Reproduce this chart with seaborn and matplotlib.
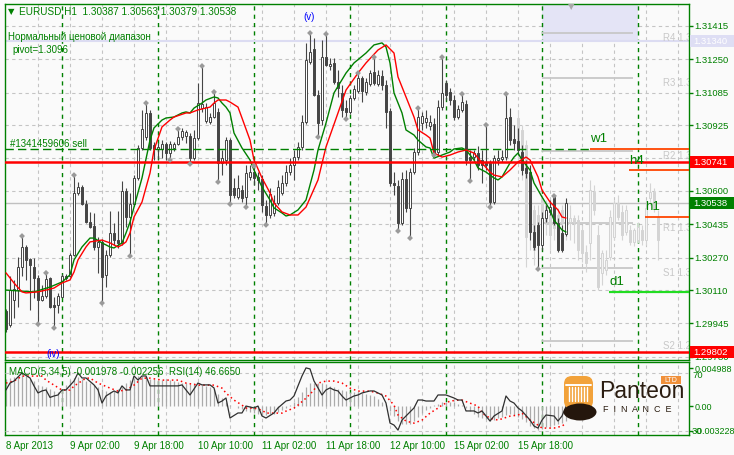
import numpy as np
import matplotlib
matplotlib.use("Agg")
import matplotlib.pyplot as plt
from matplotlib.patches import Rectangle, FancyBboxPatch, Ellipse
from matplotlib.transforms import Affine2D, blended_transform_factory
import seaborn as sns

sns.set_theme(style="white")
plt.rcParams['font.family'] = ['Liberation Sans', 'DejaVu Sans']

# ---------------- data (prices in 1e-5 units) ----------------
open_pts = [130007,129937,130061,130110,130224,130323,130264,130224,130170,130061,
            130081,130170,130036,130036,130076,130180,130180,130283,130590,130619,
            130535,130446,130427,130323,130348,130185,130283,130392,130357,130343,
            130600,130471,130535,130664,130812,130866,130985,130827,130807,130807,
            130832,130787,130812,130832,130866,130871,130871,130762,130861,131009,
            130945,130940,130965,130990,130738,130753,130851,130614,130570,130604,
            130570,130669,130693,130669,130659,130525,130481,130491,130540,130590,
            130639,130693,130728,130767,130817,130940,131237,131301,131074,130950,
            131261,131217,131232,131138,131084,131009,130990,131059,131094,131158,
            131089,131128,131187,131128,131168,131123,130995,130639,130624,130441,
            130659,130516,130693,130792,130935,130940,130921,130930,130792,131014,
            131133,131089,131049,130965,131000,131029,130767,130767,130787,130753,
            130738,130738,130545,130753,130758,130767,130965,130856,130846,130792,
            130713,130693,130397,130432,130333,130466,130496,130570,130441,130392,
            130387]
high_pts = [130017,130180,130160,130273,130377,130333,130268,130268,130185,130135,
            130195,130175,130076,130096,130190,130190,130293,130678,130644,130629,
            130555,130496,130491,130372,130362,130308,130501,130441,130501,130649,
            130614,130590,130678,130827,131000,131034,131000,130842,130837,130851,
            130842,130846,130842,130906,130911,130901,130886,130901,131133,131217,
            131034,130985,131089,131009,130802,130866,130861,130664,130678,130629,
            130728,130728,130723,130693,130678,130555,130614,130580,130654,130678,
            130728,130762,130802,130842,130975,131331,131380,131355,131098,131345,
            131375,131257,131257,131197,131123,131049,131074,131123,131182,131168,
            131158,131197,131261,131197,131197,131148,131009,130693,130654,130693,
            130703,130713,130812,131009,130990,131000,130975,130960,131049,131261,
            131148,131108,131074,131024,131079,131049,130802,130802,130822,130802,
            130926,130753,130777,130802,130802,131079,131009,130926,130911,130827,
            130753,130728,130432,130446,130496,130530,130555,130575,130466,130432,
            130563]
low_pts = [129903,129928,129972,130027,130180,130160,130012,130071,129942,130056,
           130071,130022,129923,129997,130076,130160,130175,130278,130580,130530,
           130441,130417,130308,130195,130046,130125,130273,130333,130318,130333,
           130422,130278,130525,130654,130802,130851,130802,130753,130758,130762,
           130753,130753,130797,130827,130851,130837,130733,130753,130851,130990,
           130935,130930,130960,130644,130678,130728,130535,130565,130560,130545,
           130520,130654,130629,130604,130496,130432,130466,130476,130530,130580,
           130624,130678,130654,130753,130802,130930,131227,131069,130866,130926,
           131217,131197,131128,131064,130965,130955,130980,131049,131084,131039,
           131074,131118,131123,131118,131098,130911,130624,130580,130402,130432,
           130496,130367,130683,130777,130901,130911,130901,130777,130777,131000,
           131049,131024,130950,130955,130990,130728,130649,130753,130703,130639,
           130703,130520,130535,130728,130743,130753,130827,130802,130777,130678,
           130664,130357,130308,130214,130308,130446,130481,130432,130298,130298,
           130379]
close_pts = [129918,130110,130115,130224,130323,130259,130234,130170,130061,130081,
             130165,130027,130027,130081,130180,130170,130283,130590,130619,130535,
             130446,130422,130323,130348,130175,130283,130392,130357,130343,130600,
             130471,130535,130664,130812,130906,130985,130812,130807,130817,130832,
             130787,130832,130832,130866,130896,130891,130762,130861,131034,131029,
             131014,130965,131034,130738,130762,130851,130580,130580,130614,130565,
             130688,130693,130664,130654,130530,130481,130585,130540,130619,130639,
             130693,130728,130767,130817,130940,131247,131286,131074,130935,131261,
             131222,131227,131138,131108,131000,130990,131059,131103,131158,131094,
             131138,131182,131133,131173,131123,130990,130639,130629,130441,130659,
             130516,130693,130792,130965,130970,130960,130940,130787,131014,131084,
             131074,131049,130965,131005,131039,130753,130753,130787,130728,130728,
             130728,130545,130762,130762,130767,130960,130851,130837,130802,130703,
             130688,130397,130323,130333,130466,130506,130520,130441,130308,130308,
             130538]

# projected (light grey) candles, starting at bar 128
ghost_start = 128
ghost_open = [130960,130901,130827,130555,130506,130481,130555,130530,130481,130506,130481,130506,130496,
              130446,130466,130456,130407,130298,130343,130595,130382,130195,130209,130273,130372,
              130540,130496,130397,130407,130348,130357,130407,130357,130565,130595,130471]
ghost_high = [131000,130926,130851,130604,130530,130530,130580,130555,130530,130530,130516,130530,130530,
              130530,130481,130481,130432,130333,130654,130629,130432,130308,130308,130506,130555,
              130580,130530,130530,130432,130417,130446,130432,130555,130639,130614,130506]
ghost_low = [130753,130654,130224,130308,130234,130268,130357,130382,130308,130357,130333,130357,130357,
             130357,130343,130259,130249,130199,130259,130481,130110,130135,130185,130259,130357,
             130456,130357,130382,130333,130328,130343,130333,130333,130530,130496,130259]
ghost_close = [130802,130703,130372,130407,130308,130357,130432,130446,130382,130417,130397,130446,130432,
               130466,130446,130308,130293,130244,130604,130506,130125,130293,130259,130471,130540,
               130471,130382,130506,130348,130407,130422,130357,130516,130595,130516,130357]

green_bar = [0,7,11,14,16,17,19,21,22,24,26,27,29,30,31,32,34,36,37,39,40,42,44,45,46,47,49,50,52,53,
             54,55,56,57,59,61,62,64,66,67,69,70,71,73,75,77,78,80,82,85,87,90,92,94,95,96,97,99,100,102,
             103,105,106,107,109,111,112,114,115,117,118,120,122,123,124,126,127,128,129,131,132,134,136,137,139,140]
green_val = [130110,130101,130125,130150,130185,130259,130323,130367,130367,130343,130323,130318,130343,130392,130446,
             130520,130664,130851,130911,130950,130960,130965,130985,130990,130985,131009,131034,131049,131064,131059,
             131034,131014,130985,130886,130812,130753,130703,130619,130555,130516,130491,130476,130481,130506,130555,
             130703,130802,130935,131084,131182,131232,131281,131321,131331,131311,131232,131084,130985,130901,130876,
             130851,130817,130812,130762,130777,130792,130807,130812,130802,130753,130713,130693,130664,130654,130669,
             130738,130767,130787,130753,130703,130639,130570,130506,130456,130407,130397]
red_bar = [0,2,4,5,8,10,12,14,16,17,18,20,21,24,26,28,29,30,31,32,34,36,37,39,41,42,45,46,48,51,
           52,53,55,56,58,59,61,62,64,66,67,69,71,73,75,78,80,83,85,88,90,93,95,97,98,100,102,103,105,106,
           107,109,111,113,115,117,119,121,122,124,126,128,130,131,133,134,136,138,139,140]
red_val = [130195,130145,130101,130096,130101,130110,130120,130145,130160,130199,130259,130323,130348,130357,130343,
           130323,130333,130348,130392,130471,130545,130688,130802,130916,130950,130965,130985,130985,131000,131014,
           131034,131049,131049,131039,131014,130960,130851,130753,130664,130590,130540,130496,130481,130481,130520,
           130654,130817,130985,131098,131182,131232,131296,131321,131281,131163,131064,130965,130901,130876,130861,
           130787,130767,130777,130792,130802,130787,130738,130693,130678,130669,130703,130743,130767,130753,130669,
           130604,130545,130506,130471,130466]

fractal_up = [4,10,17,35,43,49,52,62,76,80,88,92,103,109,114,120,125,137]
fractal_dn = [8,12,24,31,41,46,53,56,60,65,78,85,98,101,107,116,121,133]

macd_hist = [0.0036,0.0037,0.0038,0.0040,0.0041,0.0039,0.0036,0.0033,0.0028,0.0026,
             0.0025,0.0022,0.0020,0.0019,0.0021,0.0028,0.0034,0.0037,0.0038,0.0036,
             0.0033,0.0031,0.0028,0.0025,0.0022,0.0020,0.0019,0.0020,0.0022,0.0025,
             0.0030,0.0034,0.0037,0.0039,0.0040,0.0038,0.0036,0.0035,0.0034,0.0034,
             0.0035,0.0034,0.0033,0.0032,0.0031,0.0030,0.0029,0.0030,0.0029,0.0028,
             0.0027,0.0025,0.0022,0.0016,0.0011,0.0006,0.0002,0.0000,-0.0002,-0.0004,
             -0.0006,-0.0008,-0.0009,-0.0010,-0.0012,-0.0012,-0.0011,-0.0010,-0.0008,-0.0005,
             -0.0002,0.0001,0.0006,0.0012,0.0019,0.0025,0.0030,0.0031,0.0031,0.0030,
             0.0029,0.0027,0.0025,0.0023,0.0021,0.0020,0.0019,0.0019,0.0018,0.0017,
             0.0016,0.0015,0.0013,0.0010,0.0006,0.0001,-0.0006,-0.0013,-0.0019,-0.0023,
             -0.0024,-0.0023,-0.0019,-0.0014,-0.0009,-0.0005,-0.0002,0.0001,0.0003,0.0005,
             0.0006,0.0006,0.0005,0.0003,0.0001,-0.0003,-0.0007,-0.0011,-0.0014,-0.0016,
             -0.0017,-0.0019,-0.0018,-0.0016,-0.0014,-0.0012,-0.0011,-0.0012,-0.0014,-0.0017,
             -0.0021,-0.0026,-0.0029,-0.0031,-0.0030,-0.0028,-0.0026,-0.0025,-0.0024,-0.0022,
             -0.001978]
sig_bar = [0,2,4,6,9,10,12,14,16,17,20,21,23,26,28,30,32,34,36,39,41,43,45,48,50,52,54,55,57,59,
           60,62,64,65,67,69,70,72,73,75,77,78,80,82,84,86,88,91,93,95,97,98,100,102,104,106,108,109,111,113,
           114,116,118,119,121,123,126,128,129,131,133,134,137,139,140]
sig_val = [0.00303,0.00329,0.00395,0.00395,0.00395,0.00342,0.00276,0.00211,0.00211,0.00263,
           0.00368,0.00368,0.00303,0.00237,0.00197,0.00211,0.00276,0.00368,0.00368,0.00342,
           0.00342,0.00342,0.00303,0.00276,0.00276,0.00276,0.00237,0.00171,0.00079,0.00013,
           -0.00026,-0.00026,-0.00053,-0.00092,-0.00092,-0.00092,-0.00066,-0.00026,0.00013,0.00105,
           0.00211,0.00303,0.00329,0.00329,0.00303,0.00237,0.00197,0.00197,0.00171,0.00132,
           0.00013,-0.00118,-0.00197,-0.00224,-0.00184,-0.00092,-0.00026,0.00013,0.00066,0.00079,
           0.00079,0.00039,0.0,-0.00092,-0.00158,-0.00184,-0.00132,-0.00118,-0.00092,-0.00184,
           -0.0025,-0.00289,-0.00289,-0.00263,-0.002256]
rsi_bar = [0,1,2,4,6,7,8,9,10,11,12,13,14,15,17,18,19,20,22,23,24,25,27,28,29,30,31,32,33,34,
           35,36,38,40,41,43,44,46,48,49,51,52,53,54,55,56,58,59,60,62,63,64,65,67,68,70,71,72,73,74,
           75,76,77,78,79,80,81,82,83,84,85,87,88,89,91,92,94,95,96,97,98,99,100,102,103,104,105,107,108,109,
           110,112,113,114,115,117,118,119,120,121,122,124,125,126,127,128,129,131,132,133,134,135,137,138,139,140]
rsi_val = [58.2,63.0,64.4,70.0,66.5,61.0,56.1,57.5,58.2,53.0,54.0,54.7,58.2,58.2,64.4,70.0,66.5,66.5,61.7,58.2,
           49.1,54.0,57.5,56.1,61.0,58.2,58.2,67.9,65.1,67.9,67.9,61.0,61.0,61.0,61.0,61.0,61.7,54.7,63.0,61.7,
           61.7,59.6,49.1,50.5,52.6,38.7,42.2,42.2,47.0,45.7,47.0,40.1,38.7,42.2,45.7,50.5,51.2,54.0,61.0,67.9,
           73.5,72.8,64.4,59.6,54.7,58.2,59.6,58.2,57.5,54.0,51.2,54.0,54.7,56.1,57.5,57.5,54.7,49.1,35.2,33.8,
           30.3,37.3,40.1,45.7,51.2,51.2,50.5,50.5,54.7,54.7,54.7,52.6,51.2,51.2,43.6,43.6,42.2,43.6,40.1,36.6,
           40.1,43.6,54.0,50.5,49.1,45.7,43.6,37.3,33.1,31.7,37.3,40.8,40.1,36.6,40.1,46.665]

pivot_names = ['R4', 'R3', 'R2', 'R1', 'S1', 'S2']
pivot_vals = [1.31380, 1.31158, 1.30797, 1.30441, 1.30219, 1.29858]
y_tick_vals = [1.31415, 1.31250, 1.31085, 1.30925, 1.30760, 1.30600, 1.30435, 1.30270, 1.30110, 1.29945, 1.29780]
y_tick_labels = ['1.31415', '1.31250', '1.31085', '1.30925', '1.30760', '1.30600', '1.30435', '1.30270',
                 '1.30110', '1.29945', '1.29780']
x_tick_bars = [0, 16, 32, 48, 64, 80, 96, 112, 128]
x_tick_labels = ['8 Apr 2013', '9 Apr 02:00', '9 Apr 18:00', '10 Apr 10:00', '11 Apr 02:00',
                 '11 Apr 18:00', '12 Apr 10:00', '15 Apr 02:00', '15 Apr 18:00']
day_sep_bars = [14, 38, 62, 86, 110, 134, 158]
sell_price = 1.30807
stop_line = 1.30741
low_line = 1.29802
bid_price = 1.30538
band_price = 1.31340
tf_levels = {'w1': 1.30807, 'h4': 1.30703, 'h1': 1.30471, 'd1': 1.30101}

# ---------------- figure ----------------
GREEN = '#008000'
BG = '#fafafa'
W, H = 734, 455
fig = plt.figure(figsize=(W / 100, H / 100), dpi=100)
fig.patch.set_facecolor(BG)
PX = Affine2D().scale(1, -1).translate(0, H)   # pixel coords, origin top-left


def rect(x0, y0, x1, y1):
    return [x0 / W, 1 - y1 / H, (x1 - x0) / W, (y1 - y0) / H]


ax = fig.add_axes(rect(5, 4, 689, 360))
axm = fig.add_axes(rect(5, 362, 689, 435))
XL = (-0.25, 170.75)
for a in (ax, axm):
    a.set_facecolor(BG)
    for s in a.spines.values():
        s.set_color(GREEN)
        s.set_linewidth(1)
    a.set_xlim(*XL)
    for b in range(8, 171, 8):
        a.axvline(b, color='#c4c4c4', ls=(0, (3, 3)), lw=0.8, zorder=0.2)
    for b in day_sep_bars:
        a.axvline(b, color=GREEN, ls=(0, (3, 3)), lw=1, zorder=0.3)

YMIN, YMAX = 1.297646, 1.315232
ax.set_ylim(YMIN, YMAX)
for v in y_tick_vals:
    ax.axhline(v, color='#c4c4c4', ls=(0, (3, 3)), lw=0.8, zorder=0.2)

# lavender band & level
ax.add_patch(Rectangle((134, band_price), 24, YMAX - band_price, facecolor='#e4e4f6',
                       edgecolor='none', zorder=0.25))
ax.axhline(band_price, color='#dcdcf2', lw=1.5, zorder=0.4)

# pivot levels
for name, v in zip(pivot_names, pivot_vals):
    ax.hlines(v, 134, 156.75, color='#c8c8c8', lw=1.3, zorder=0.5)
    t = ax.text(164.25, v - 0.00025, f'{name} {v:.5f}', color='#c8c8c8', fontsize=7,
                va='center', ha='left', zorder=0.6)
    t.set_clip_on(True)

# bid line
ax.axhline(bid_price, color='#c0c0c0', lw=1, zorder=0.5)


def candles(xs, o, h, l, c, up_face, up_edge, dn_face, wick, z):
    o, h, l, c = (np.asarray(v) / 1e5 for v in (o, h, l, c))
    ax.vlines(xs, l, h, color=wick, lw=0.8, zorder=z)
    up = c >= o
    bottom = np.minimum(o, c)
    height = np.maximum(np.abs(c - o), 0.00002)
    ax.bar(xs[up], height[up], bottom=bottom[up], width=0.72, color=up_face,
           edgecolor=up_edge, linewidth=0.7, zorder=z + 0.1)
    ax.bar(xs[~up], height[~up], bottom=bottom[~up], width=0.72, color=dn_face,
           edgecolor=dn_face, linewidth=0.7, zorder=z + 0.1)


gx = np.arange(ghost_start, ghost_start + len(ghost_open))
candles(gx, ghost_open, ghost_high, ghost_low, ghost_close, '#f3f3f3', '#d4d4d4', '#d4d4d4', '#d4d4d4', 1)
xs = np.arange(len(open_pts))
candles(xs, open_pts, high_pts, low_pts, close_pts, 'white', '#454545', '#454545', '#454545', 2)

# fractal markers
hp = np.asarray(high_pts) / 1e5
lp = np.asarray(low_pts) / 1e5
sns.scatterplot(x=fractal_up, y=hp[fractal_up], ax=ax, marker='D', s=9, color='#9a9a9a',
                edgecolor='none', zorder=4, legend=False)
sns.scatterplot(x=fractal_dn, y=lp[fractal_dn], ax=ax, marker='D', s=9, color='#9a9a9a',
                edgecolor='none', zorder=4, legend=False)

# moving averages
sns.lineplot(x=green_bar, y=np.asarray(green_val) / 1e5, ax=ax, color='#008000', lw=1,
             estimator=None, sort=False, legend=False, zorder=3)
sns.lineplot(x=red_bar, y=np.asarray(red_val) / 1e5, ax=ax, color='#ff0000', lw=1,
             estimator=None, sort=False, legend=False, zorder=3)

# order / level lines
ax.hlines(sell_price, XL[0], 146, color=GREEN, ls=(0, (6, 3)), lw=1, zorder=3.5)
ax.axhline(stop_line, color='#ff0000', lw=1.8, zorder=3.6)
ax.axhline(low_line, color='#ff0000', lw=1.8, zorder=3.6)
tf_pos = {'w1': 146, 'h4': 155.75, 'h1': 159.75, 'd1': 150.75}
tf_col = {'w1': '#ff4500', 'h4': '#ff4500', 'h1': '#ff4500', 'd1': '#22dd22'}
for k, v in tf_levels.items():
    ax.hlines(v, tf_pos[k], XL[1], color=tf_col[k], lw=1.3 if k != 'd1' else 1.6, zorder=3.7)
    ax.text(tf_pos[k], v + 0.00047, k, color=GREEN, fontsize=9.5, va='center', ha='left', zorder=4)

# axis ticks main
ax.set_xticks([])
ax.yaxis.tick_right()
ax.set_yticks(y_tick_vals)
ax.set_yticklabels(y_tick_labels)
ax.tick_params(axis='y', colors=GREEN, labelcolor=GREEN, length=3, width=1, labelsize=6.8, pad=1)


def ptext(x, y, s, **kw):
    kw.setdefault('color', GREEN)
    kw.setdefault('fontsize', 7)
    fig.text(x, y, s, transform=PX, va='center', ha=kw.pop('ha', 'left'), **kw)


ptext(8, 12, '▼', fontsize=6, family='DejaVu Sans')
ptext(19, 12, 'EURUSD,H1  1.30387 1.30563 1.30379 1.30538', fontsize=7.2)
ptext(8, 37, 'Нормальный ценовой диапазон')
ptext(12, 50, 'pivot=1.3096')
ptext(10, 144, '#1341459606 sell')
ptext(303, 17, '(v)', color='#0000ff')
ptext(46, 354, '(iv)', color='#0000ff')
ptext(568, 7, '▼', color='#a8a8a8', fontsize=6, family='DejaVu Sans')

# right price boxes
bt = blended_transform_factory(fig.transFigure, ax.transData)
half = 6 * 0.0000494
for v, fc, s in [(band_price, '#dedef4', '1.31340'), (stop_line, '#ff0000', '1.30741'),
                 (bid_price, GREEN, '1.30538'), (low_line, '#ff0000', '1.29802')]:
    fig.add_artist(Rectangle((690 / W, v - half), 44 / W, 2 * half, transform=bt,
                             facecolor=fc, edgecolor='none', zorder=5))
    fig.text(693 / W, v, s, transform=bt, color='white', fontsize=6.8, va='center', ha='left', zorder=6)

# ---------------- MACD / RSI panel ----------------
axm.set_ylim(-0.0038, 0.0058)
axm.vlines(xs, 0, macd_hist, color='#ababab', lw=0.9, zorder=1)
sns.lineplot(x=sig_bar, y=sig_val, ax=axm, color='#ff0000', lw=1.1, ls=(0, (1, 2)),
             estimator=None, sort=False, legend=False, zorder=2)
axr = axm.twinx()
axr.set_ylim(26.9, 77.6)
axr.set_xlim(*XL)
axr.axhline(70, color='#c4c4c4', ls=(0, (3, 3)), lw=0.8, zorder=0)
axr.axhline(30, color='#c4c4c4', ls=(0, (3, 3)), lw=0.8, zorder=0)
sns.lineplot(x=rsi_bar, y=rsi_val, ax=axr, color='#303030', lw=0.9,
             estimator=None, sort=False, legend=False, zorder=3)
axr.axis('off')

axm.yaxis.tick_right()
axm.set_yticks([0.004988, 0.0, -0.003228])
axm.set_yticklabels(['0.004988', '0.00', '-0.003228'])
axm.tick_params(axis='y', colors=GREEN, labelcolor=GREEN, length=3, width=1, labelsize=6.5, pad=1)
axm.set_xticks(x_tick_bars)
axm.set_xticklabels(x_tick_labels, ha='left')
axm.tick_params(axis='x', colors=GREEN, labelcolor=GREEN, length=3, width=1, labelsize=7, pad=1)
for lab in axm.get_xticklabels():
    lab.set_horizontalalignment('left')

ptext(9, 372, 'MACD(5,34,5) -0.001978 -0.002256  RSI(14) 46.6650')
ptext(692, 375, '70', fontsize=6.8)
ptext(692, 431, '30', fontsize=6.8)

# ---------------- logo ----------------
fig.add_artist(FancyBboxPatch((564, 376), 29, 33, boxstyle='round,pad=0,rounding_size=8',
                              transform=PX, facecolor='#f2a23a', edgecolor='none', zorder=7))
for cx in range(569, 590, 3):
    fig.add_artist(matplotlib.lines.Line2D([cx, cx], [387, 401], transform=PX, color='white',
                                           lw=1.0, zorder=8))
fig.add_artist(matplotlib.lines.Line2D([566, 591], [385, 385], transform=PX, color='white', lw=1.4, zorder=8))
fig.add_artist(Ellipse((580, 412), 33, 17, transform=PX, facecolor='#24160c', edgecolor='none', zorder=9))
fig.add_artist(Rectangle((661, 376), 20, 8, transform=PX, facecolor='#f0903a', edgecolor='none', zorder=7))
fig.text(671, 380.5, 'LTD', transform=PX, color='white', fontsize=5, ha='center', va='center', zorder=8)
fig.text(599, 392, 'Panteon', transform=PX, color='#2a1c10', fontsize=16.5, ha='left', va='center', zorder=8)
fig.text(603, 410, 'F  I  N  A  N  C  E', transform=PX, color='#2a1c10', fontsize=6.5,
         ha='left', va='center', zorder=8)

fig.savefig('out.png', dpi=100, facecolor=fig.get_facecolor())
